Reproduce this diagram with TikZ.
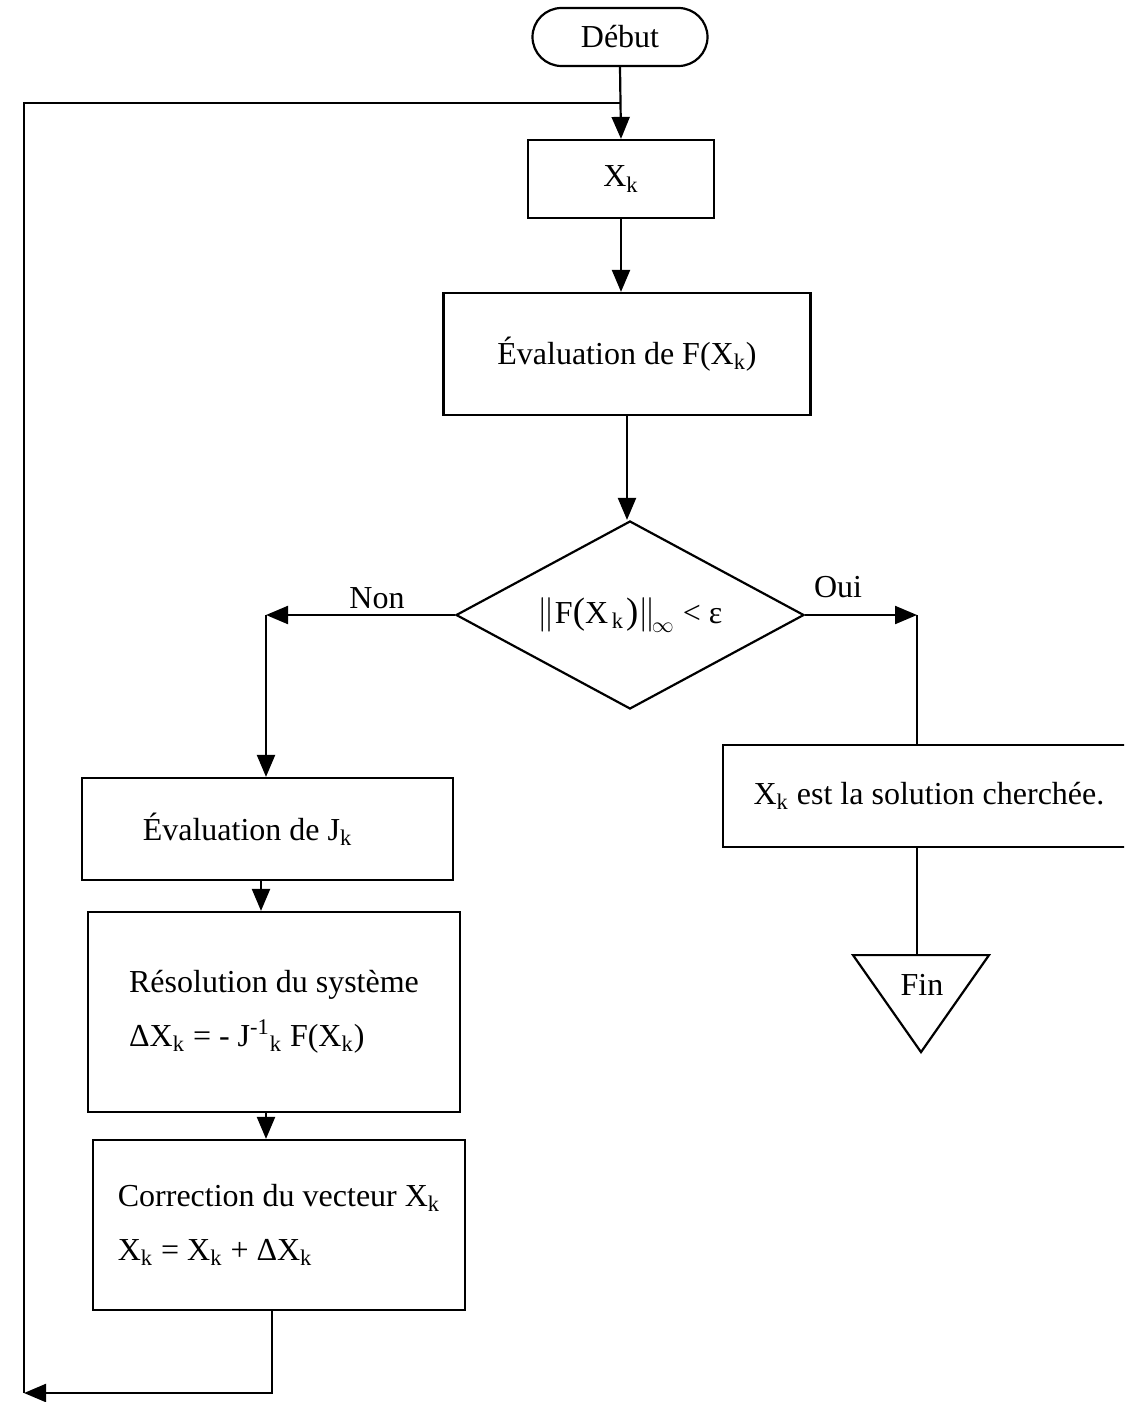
\documentclass[tikz,border=0pt]{standalone}
\usepackage{fontspec}
\setmainfont{Liberation Serif}
\usetikzlibrary{shapes.geometric,shapes.misc,arrows.meta,calc}
\begin{document}
\begin{tikzpicture}[x=0.5pt,y=-0.5pt,
  font=\fontsize{16}{19}\selectfont,
  line width=1.1pt,
  box/.style={draw, rectangle, inner sep=0pt},
  arr/.style={-{Triangle[length=11pt,width=9pt]}},
  every node/.append style={line width=1.1pt}]
\useasboundingbox (0,0) rectangle (1124,1402);
\clip (0,0) rectangle (1124,1402);

% nodes
\node[draw, rounded rectangle, minimum width=87.5pt, minimum height=29pt, inner sep=0pt] (debut) at (620,37) {Début};
\node[box, minimum width=93pt, minimum height=39pt] (xk) at (621,179) {X\textsubscript{k}};
\node[box, minimum width=183.5pt, minimum height=61pt] (evf) at (627,354) {Évaluation de F(X\textsubscript{k})};
\node[draw, diamond, aspect=1.85, minimum width=174pt, minimum height=94pt, inner sep=0pt] (test) at (630,615)
  {$\Big\|$F\scalebox{1.15}{(}X\textsubscript{\,k}\kern1pt\scalebox{1.15}{)}$\Big\|_{\!\infty}$\ < ε};
\node (non) at (377,598) {Non};
\node (oui) at (838,587) {Oui};
\node[box, minimum width=185.5pt, minimum height=51pt] (jk) at (267.5,829) {Évaluation de J\textsubscript{k}\hspace*{20pt}};
\node[box, minimum width=186pt, minimum height=100pt, align=left] (res) at (274,1012)
  {Résolution du système\\[8pt]ΔX\textsubscript{k} = - J\textsuperscript{-1}\textsubscript{k} F(X\textsubscript{k})};
\node[box, minimum width=186pt, minimum height=85pt, align=left] (corr) at (279,1225)
  {Correction du vecteur X\textsubscript{k}\\[8pt]X\textsubscript{k} = X\textsubscript{k} + ΔX\textsubscript{k}};
\node[box, minimum width=206pt, minimum height=51pt] (sol) at (929,796) {X\textsubscript{k} est la solution cherchée.};
\node[draw, isosceles triangle, isosceles triangle stretches, shape border rotate=-90,
  minimum width=68pt, minimum height=48.5pt, inner sep=0pt, anchor=north] (fin) at (921,954) {};
\node (fintext) at (922,985) {Fin};

% coordinates
\coordinate (join) at ($(debut.south)!0.5!(xk.north)$);
\coordinate (loopc) at (24,1393);
\coordinate (nonc) at (266,615);
\coordinate (ouic) at (917,615);
\coordinate (ax1) at (261,0);
\coordinate (ax2) at (266,0);
\coordinate (ax3) at (272,0);

% connectors
\draw[arr] (debut.south) -- (xk.north);
\draw[arr] (xk.south) -- (xk.south |- evf.north);
\draw[arr] (evf.south) -- (evf.south |- test.north);
\draw[arr] (test.west) -- (nonc);
\draw[arr] (nonc) -- (nonc |- jk.north);
\draw[arr] (jk.south -| ax1) -- (res.north -| ax1);
\draw[arr] (res.south -| ax2) -- (corr.north -| ax2);
\draw[arr] (corr.south -| ax3) |- (loopc);
\draw (loopc) |- (join);
\draw[arr] (test.east) -- (ouic);
\draw (ouic) -- (ouic |- sol.north);
\draw (sol.south -| ouic) -- (fin.north -| ouic);
\end{tikzpicture}
\end{document}
